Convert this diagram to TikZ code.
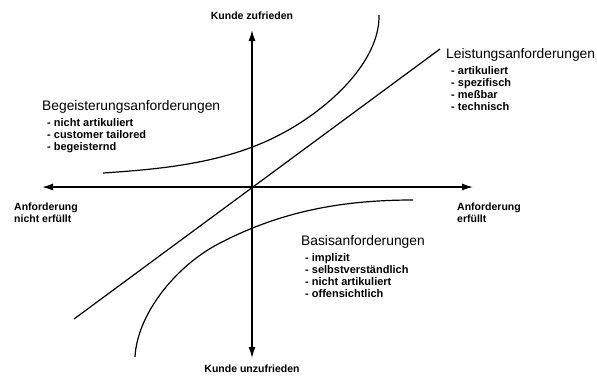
\documentclass[tikz,border=0pt]{standalone}
\usepackage{fontspec}
\setmainfont{Liberation Sans}
\usetikzlibrary{arrows.meta}
\begin{document}
\begin{tikzpicture}[x=1pt,y=-1pt,
  axis/.style={line width=1.4pt,-{Latex[length=11pt,width=7pt]}},
  curve/.style={line width=1.2pt},
  title/.style={inner sep=0pt,anchor=west,font=\fontsize{13.8}{15}\selectfont},
  bullets/.style={inner sep=0pt,anchor=north west,align=left,font=\fontsize{11}{12}\selectfont\bfseries},
  axlabel/.style={inner sep=0pt,font=\fontsize{10.5}{11.5}\selectfont\bfseries,align=left}]
\useasboundingbox (0,0) rectangle (597,376);
\coordinate (O) at (252,187);
\coordinate (L) at (42,187);
\coordinate (R) at (473,187);
\coordinate (T) at (252,30);
\coordinate (B) at (252,358);
\draw[axis] (O) -- (L);
\draw[axis] (O) -- (R);
\draw[axis] (O) -- (T);
\draw[axis] (O) -- (B);
% linear
\coordinate (d1) at (74,319);
\coordinate (d2) at (440,49);
\draw[curve] (d1) -- (d2);
% attractive
\coordinate (a1) at (103,173);
\coordinate (a2) at (283,133);
\coordinate (a3) at (379,15);
\draw[curve] (a1) .. controls (163,169) and (228,163) .. (a2)
  .. controls (328,109) and (380,62) .. (a3);
% basic
\coordinate (b1) at (135,357);
\coordinate (b2) at (220,243);
\coordinate (b3) at (413,200);
\draw[curve] (b1) .. controls (137,315) and (175,266) .. (b2)
  .. controls (280,212) and (340,200) .. (b3);
% labels
\node[axlabel,anchor=center] (kz) at (252,16) {Kunde zufrieden};
\node[axlabel,anchor=center] (ku) at (252,369) {Kunde unzufrieden};
\node[axlabel,anchor=north west] (anf1) at (14,203) {Anforderung\\nicht erfüllt};
\node[axlabel,anchor=north west] (anf2) at (457,203) {Anforderung\\erfüllt};
\node[title] (bt) at (42,107) {Begeisterungsanforderungen};
\node[bullets] (bb) at (47,118) {- nicht artikuliert\\- customer tailored\\- begeisternd};
\node[title] (lt) at (446,55) {Leistungsanforderungen};
\node[bullets] (lb) at (451,66) {- artikuliert\\- spezifisch\\- meßbar\\- technisch};
\node[title] (st) at (301,242) {Basisanforderungen};
\node[bullets] (sb) at (305,253) {- implizit\\- selbstverständlich\\- nicht artikuliert\\- offensichtlich};
\end{tikzpicture}
\end{document}
